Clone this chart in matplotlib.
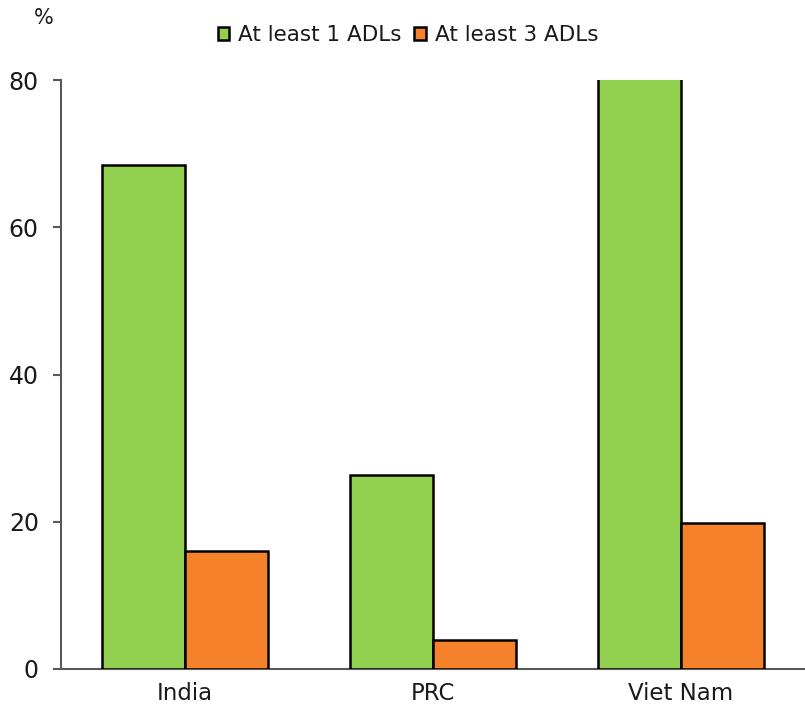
import matplotlib
matplotlib.use("Agg")
import matplotlib.pyplot as plt
import numpy as np

categories = ["India", "PRC", "Viet Nam"]
series_names = ["At least 1 ADLs", "At least 3 ADLs"]
at_least_1 = [68.4, 26.3, 84.0]
at_least_3 = [16.0, 3.9, 19.8]
y_ticks = [0, 20, 40, 60, 80]

colors = ["#92D050", "#F5822A"]

plt.rcParams['font.family'] = ['DejaVu Sans']

fig = plt.figure(figsize=(8.05, 7.07), dpi=100)
ax = fig.add_axes([61/805, 38/707, 1 - 61/805, (669-80)/707])

x = np.arange(len(categories))
w = 1/3
ax.bar(x - w/2, at_least_1, width=w, color=colors[0], edgecolor="black",
       linewidth=1.8, label=series_names[0])
ax.bar(x + w/2, at_least_3, width=w, color=colors[1], edgecolor="black",
       linewidth=1.8, label=series_names[1])

ax.set_xlim(-0.5, 2.5)
ax.set_ylim(0, 80)
ax.set_yticks(y_ticks)
ax.set_xticks(x)
ax.set_xticklabels(categories)

for s in ["top", "right"]:
    ax.spines[s].set_visible(False)
for s in ["left", "bottom"]:
    ax.spines[s].set_color("#595959")
    ax.spines[s].set_linewidth(1.5)
ax.spines["bottom"].set_zorder(0)

ax.tick_params(axis="y", direction="out", length=6, width=1.5, color="#595959",
               pad=10, labelsize=17, labelcolor="#1a1a1a")
ax.tick_params(axis="x", length=0, pad=9, labelsize=16.5, labelcolor="#1a1a1a")

ax.text(44/805, 1 - 18/707, "%", transform=fig.transFigure, ha="center",
        va="center", fontsize=15, color="#1a1a1a")

leg = fig.legend(loc="center", bbox_to_anchor=(408/805, 1 - 35/707), ncol=2,
                 frameon=False, fontsize=15.5, handlelength=0.55, handleheight=0.55,
                 handletextpad=0.4, columnspacing=0.6, labelcolor="#1a1a1a")

fig.savefig("out.png", dpi=100)
